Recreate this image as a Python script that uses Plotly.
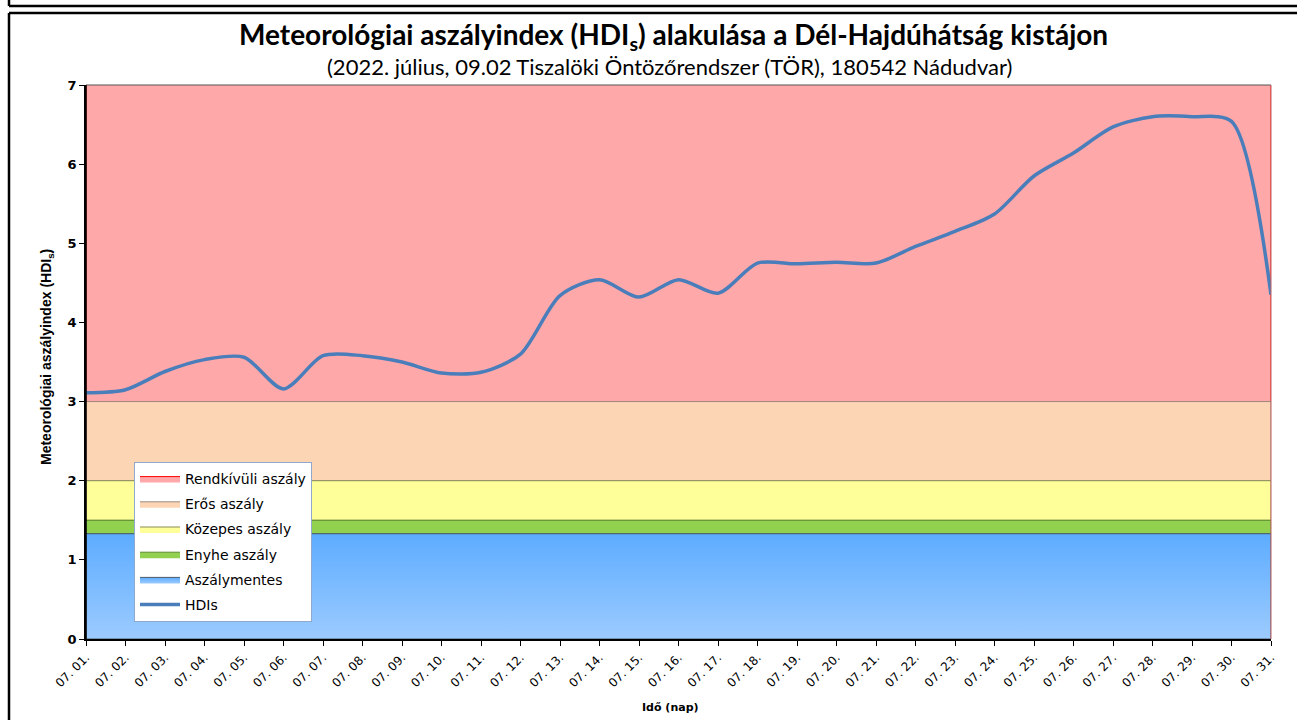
import plotly.graph_objects as go

# ---- data ----
days = ["07. %02d." % d for d in range(1, 32)]
hdis = [3.11, 3.15, 3.38, 3.53, 3.56, 3.16, 3.58, 3.58, 3.50, 3.36, 3.37, 3.60,
        4.34, 4.54, 4.32, 4.54, 4.37, 4.75, 4.74, 4.76, 4.75, 4.96, 5.15, 5.37,
        5.85, 6.14, 6.47, 6.60, 6.60, 6.54, 4.35]

band_names = ["Rendkívüli aszály", "Erős aszály", "Közepes aszály", "Enyhe aszály", "Aszálymentes"]
band_lo = [3.0, 2.0, 1.5, 1.33, 0.0]
band_hi = [7.0, 3.0, 2.0, 1.5, 1.33]
band_fill = ["#FFA8AA", "#FCD5B5", "#FFFF99", "#92D050", "#6EB4FF"]
band_line = ["#FF0000", "#9C8C80", "#8C8C5A", "#5F8A30", "#4A5A6A"]

# pixel -> paper helpers (plot area 86..1271 x, 85..639 y)
L, R, T, B = 86, 1271, 85, 639
W, H = 1297, 720
def px(x):
    return (x - L) / (R - L)
def py(y):
    return (B - y) / (B - T)

fig = go.Figure()

for i, name in enumerate(band_names):
    kw = {}
    if name == "Aszálymentes":
        kw["fillgradient"] = dict(type="vertical",
                                  colorscale=[[0, "#9CCBFF"], [1, "#5DACFF"]])
    else:
        kw["fillcolor"] = band_fill[i]
    fig.add_trace(go.Scatter(
        x=[days[0], days[-1], days[-1], days[0], days[0]],
        y=[band_lo[i], band_lo[i], band_hi[i], band_hi[i], band_lo[i]],
        mode="lines", fill="toself",
        line=dict(color=band_line[i], width=1),
        name=name, legendgroup=name, hoverinfo="skip", **kw))

fig.add_trace(go.Scatter(
    x=days, y=hdis, mode="lines", name="HDIs", legendgroup="HDIs",
    line=dict(color="#4A7EBB", width=3.5, shape="spline", smoothing=0.8)))

shapes = [
    # plot area frame (gray) top/right
    dict(type="line", xref="paper", yref="paper", x0=0, x1=1, y0=1, y1=1,
         line=dict(color="#8C8C8C", width=1.5)),
    dict(type="line", xref="paper", yref="paper", x0=1, x1=1, y0=0, y1=1,
         line=dict(color="#C06060", width=1)),
    dict(type="line", xref="paper", yref="paper", x0=0, x1=0, y0=0, y1=1,
         line=dict(color="black", width=1.5)),
    # outer frames
    dict(type="line", xref="paper", yref="paper", x0=px(9), x1=px(1300), y0=py(6), y1=py(6),
         line=dict(color="black", width=2.5)),
    dict(type="line", xref="paper", yref="paper", x0=px(9), x1=px(9), y0=py(-5), y1=py(6),
         line=dict(color="black", width=2.5)),
    dict(type="line", xref="paper", yref="paper", x0=px(9), x1=px(1300), y0=py(13), y1=py(13),
         line=dict(color="black", width=2.5)),
    dict(type="line", xref="paper", yref="paper", x0=px(9), x1=px(9), y0=py(13), y1=py(725),
         line=dict(color="black", width=2.5)),
]

annotations = [
    dict(text="<b>Meteorológiai aszályindex (HDI<sub>s</sub>) alakulása a Dél-Hajdúhátság kistájon</b>",
         xref="paper", yref="paper", x=px(673), y=py(36), showarrow=False,
         xanchor="center", yanchor="middle",
         font=dict(family="Lato", size=28, color="black")),
    dict(text="(2022. július, 09.02 Tiszalöki Öntözőrendszer (TÖR), 180542 Nádudvar)",
         xref="paper", yref="paper", x=px(669), y=py(67), showarrow=False,
         xanchor="center", yanchor="middle",
         font=dict(family="Lato", size=22, color="black")),
    dict(text="<b>Idő (nap)</b>", xref="paper", yref="paper", x=px(670), y=py(707),
         showarrow=False, xanchor="center", yanchor="middle",
         font=dict(family="DejaVu Sans", size=11, color="black")),
    dict(text="<b>Meteorológiai aszályindex (HDI<sub>s</sub>)</b>", xref="paper", yref="paper",
         x=px(47), y=py(357), showarrow=False, textangle=-90,
         xanchor="center", yanchor="middle",
         font=dict(family="Liberation Sans", size=14, color="black")),
]

fig.update_layout(
    width=W, height=H,
    margin=dict(l=L, r=W - R, t=T, b=H - B),
    paper_bgcolor="white", plot_bgcolor="white",
    showlegend=True,
    legend=dict(x=px(134), y=py(462), xanchor="left", yanchor="top",
                bgcolor="white", bordercolor="#8FA8CC", borderwidth=1,
                font=dict(family="DejaVu Sans", size=14, color="black"),
                tracegroupgap=4, itemwidth=40),
    shapes=shapes, annotations=annotations,
)

fig.update_xaxes(type="category", categoryorder="array", categoryarray=days,
                 range=[0, 30], tickangle=-45, showgrid=False,
                 showline=True, linecolor="black", linewidth=1.5,
                 ticks="outside", ticklen=5, tickcolor="black",
                 tickfont=dict(family="DejaVu Sans", size=12, color="black"))
fig.update_yaxes(range=[0, 7], dtick=1, showgrid=False, zeroline=False,
                 showline=True, linecolor="black", linewidth=1.5,
                 ticks="outside", ticklen=5, tickcolor="black",
                 tickfont=dict(family="DejaVu Sans", size=13, color="black", weight="bold"))

fig.write_html("out.html", config={"displayModeBar": False},
               post_script="document.body.style.margin='0';")
